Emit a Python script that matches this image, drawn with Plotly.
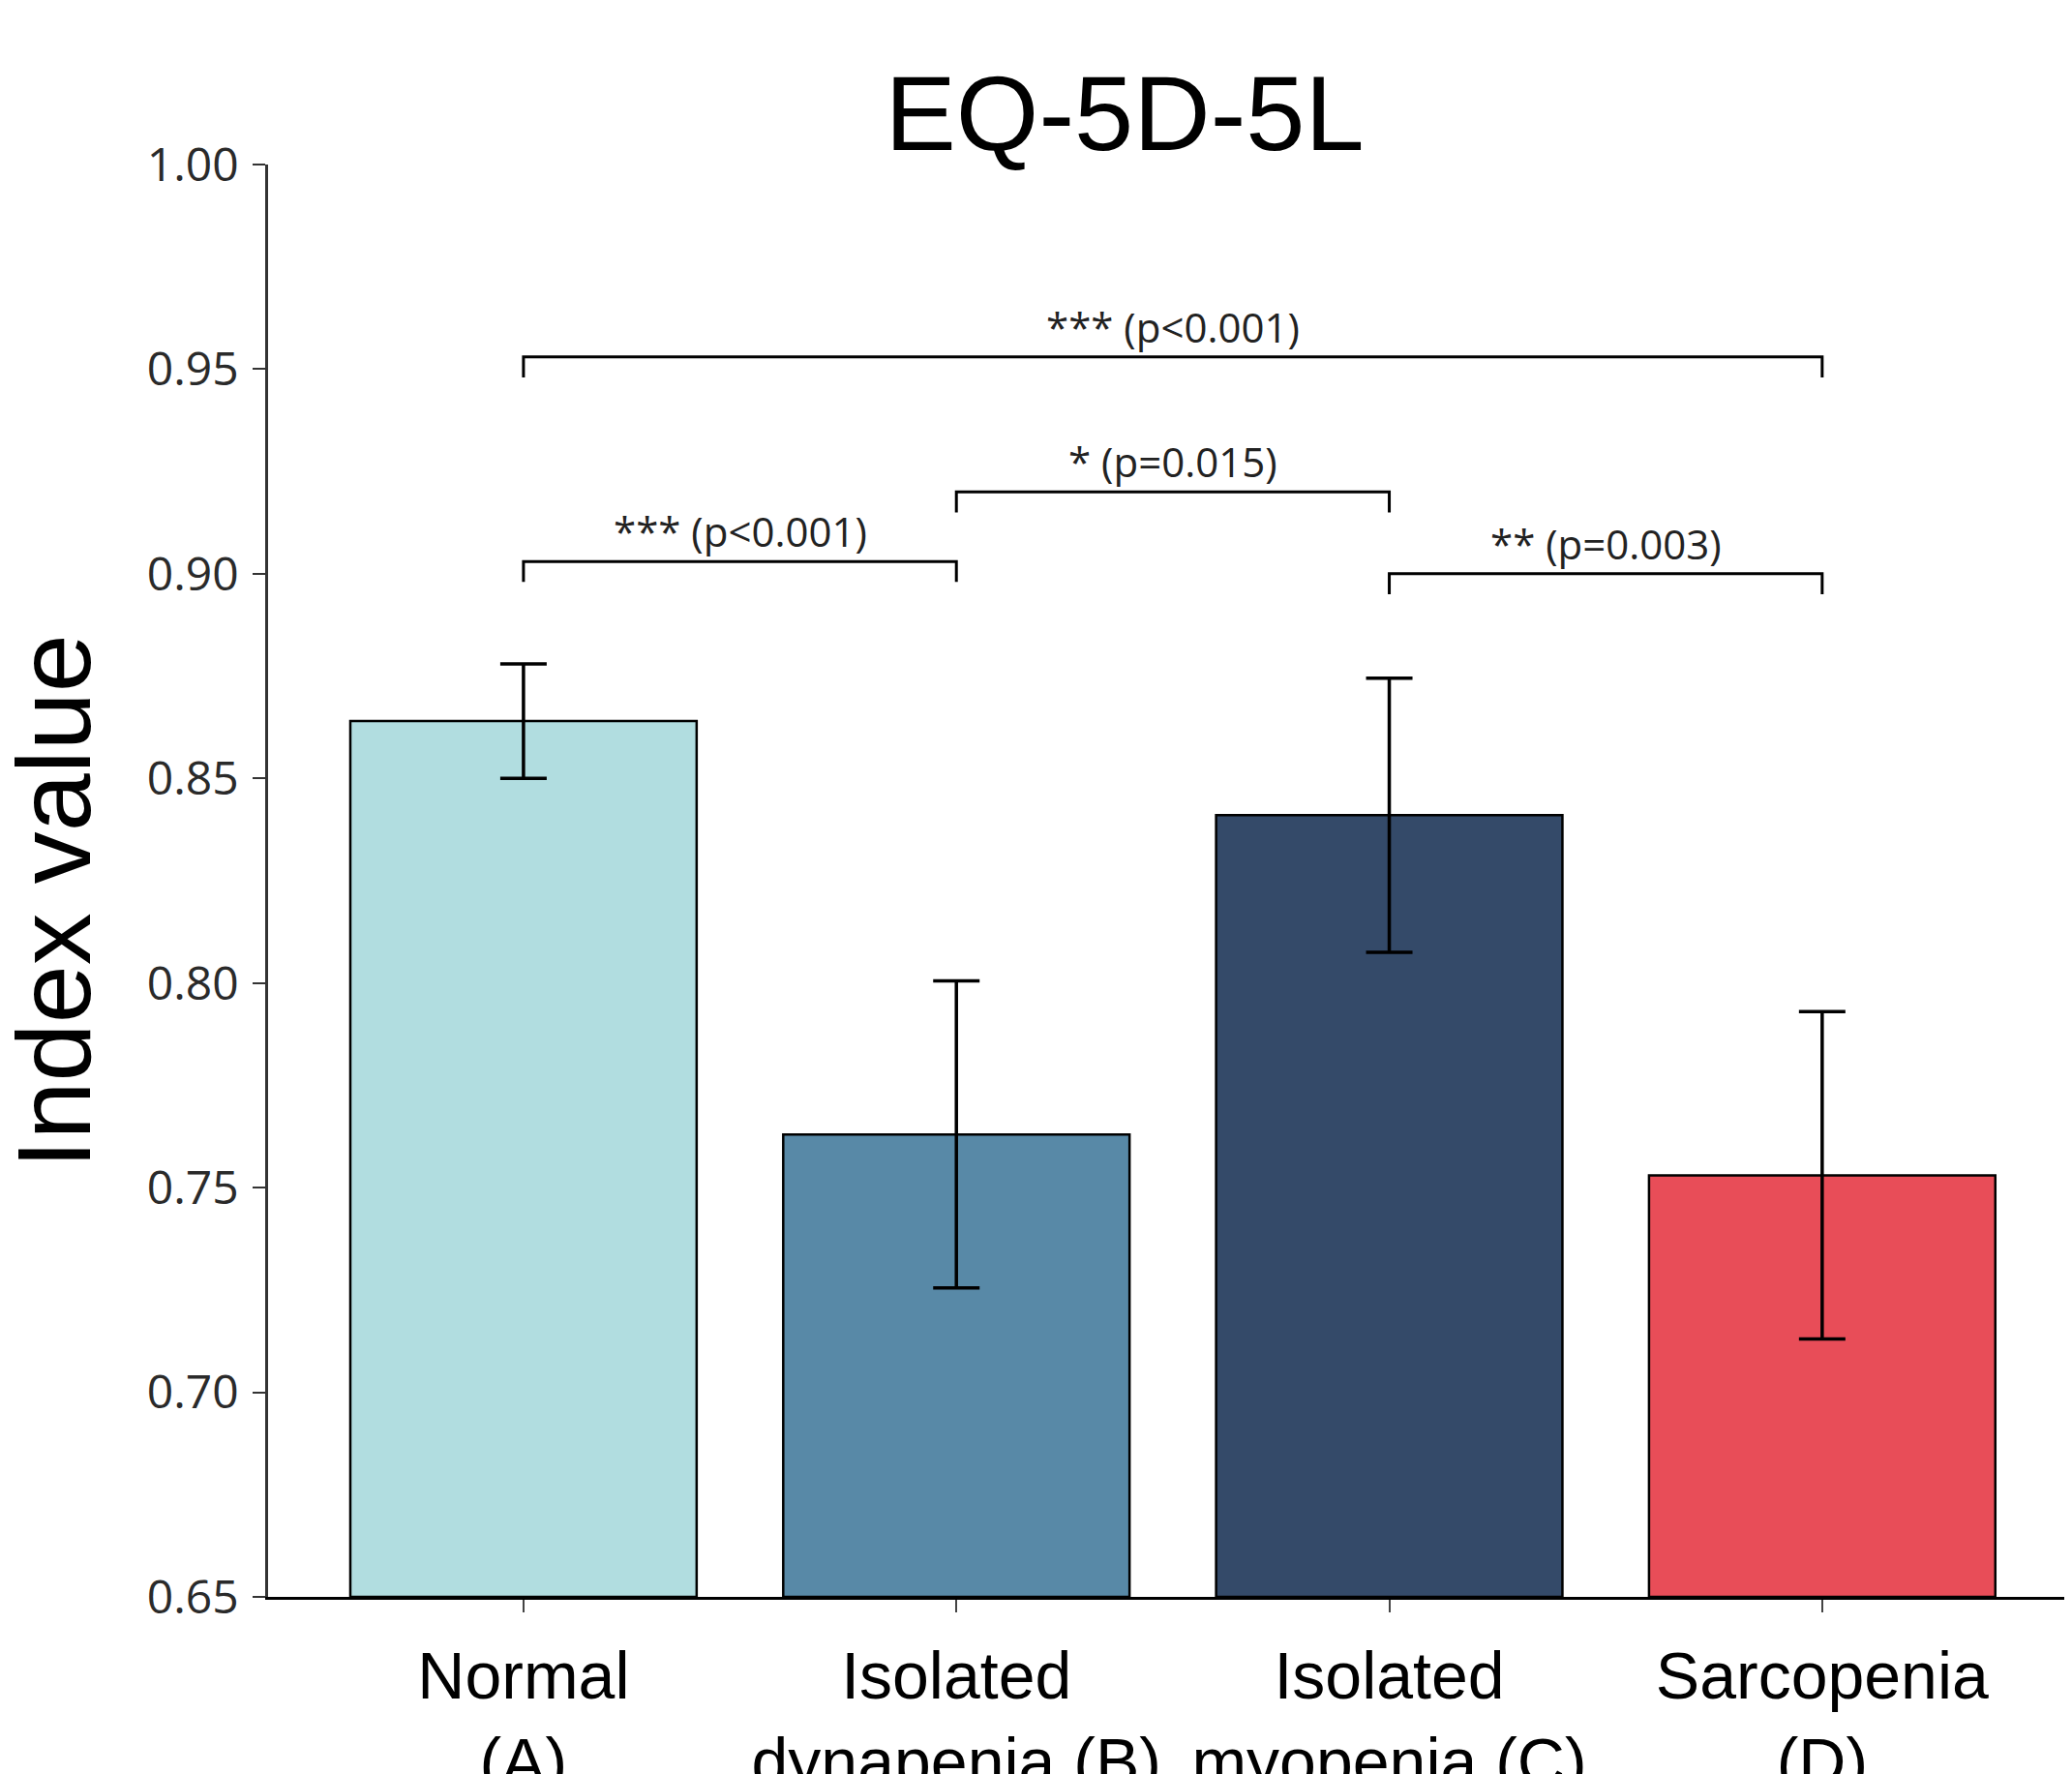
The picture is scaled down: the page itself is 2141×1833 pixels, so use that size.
import plotly.graph_objects as go

# ---- data ----
categories = ["Normal<br>(A)", "Isolated<br>dynapenia (B)", "Isolated<br>myopenia (C)", "Sarcopenia<br>(D)"]
means = [0.864, 0.763, 0.841, 0.753]
errors = [0.014, 0.0375, 0.0335, 0.040]
bar_colors = ["#B1DDE0", "#5889A7", "#344A69", "#E84D58"]
y_ticks = [0.65, 0.70, 0.75, 0.80, 0.85, 0.90, 0.95, 1.00]

# significance brackets: (left group index, right group index, height, label)
bracket_left = [0, 1, 2, 0]
bracket_right = [1, 2, 3, 3]
bracket_height = [0.903, 0.920, 0.900, 0.953]
bracket_drop = 0.005
bracket_labels = ["*** (p<0.001)", "* (p=0.015)", "** (p=0.003)", "*** (p<0.001)"]

xpos = list(range(len(categories)))

fig = go.Figure()
fig.add_trace(go.Bar(
    x=xpos, y=[m - 0.65 for m in means], base=0.65,
    width=0.8,
    marker=dict(color=bar_colors, line=dict(color="black", width=2.5)),
    error_y=dict(type="data", array=errors, color="black", thickness=3.5, width=24),
    showlegend=False, hoverinfo="skip",
))

# brackets
for l, r, h in zip(bracket_left, bracket_right, bracket_height):
    fig.add_trace(go.Scatter(
        x=[l, l, r, r], y=[h - bracket_drop, h, h, h - bracket_drop],
        mode="lines", line=dict(color="black", width=3),
        showlegend=False, hoverinfo="skip", cliponaxis=False,
    ))

annotations = []
for l, r, h, t in zip(bracket_left, bracket_right, bracket_height, bracket_labels):
    annotations.append(dict(
        x=(l + r) / 2, y=h, xref="x", yref="y", text=t, showarrow=False,
        xanchor="center", yanchor="bottom", yshift=1,
        font=dict(family="Open Sans, Lato, sans-serif", size=42, color="#222222"),
    ))

annotations.append(dict(
    x=0, y=0.4855, xref="paper", yref="paper", xshift=-222,
    text="Index value", textangle=-90, showarrow=False,
    xanchor="center", yanchor="middle",
    font=dict(family="Liberation Sans, Arial, sans-serif", size=108, color="black"),
))

fig.update_layout(
    width=2141, height=1833,
    margin=dict(l=269, r=0, t=162, b=191, pad=0, autoexpand=False),
    paper_bgcolor="white", plot_bgcolor="white",
    title=dict(
        text="EQ-5D-5L", x=0.4728, xref="paper", xanchor="center",
        y=1 - 108 / 1833, yref="container", yanchor="middle",
        font=dict(family="Liberation Sans, Arial, sans-serif", size=110, color="black"),
    ),
    annotations=annotations,
    bargap=0.2,
)

fig.update_xaxes(
    range=[-0.59, 3.595], automargin=False,
    tickmode="array", tickvals=xpos, ticktext=categories,
    showline=True, linecolor="black", linewidth=2.5,
    ticks="outside", ticklen=13, tickwidth=2, tickcolor="#444444",
    showgrid=False, zeroline=False,
    tickfont=dict(family="Liberation Sans, Arial, sans-serif", size=68, color="black"),
    ticklabelstandoff=8,
)
fig.update_yaxes(
    range=[0.65, 1.00], automargin=False,
    tickmode="array", tickvals=y_ticks, ticktext=[f"{v:.2f}" for v in y_ticks],
    showline=True, linecolor="#333333", linewidth=2.5,
    ticks="outside", ticklen=13, tickwidth=2, tickcolor="#333333",
    showgrid=False, zeroline=False,
    tickfont=dict(family="Open Sans, Lato, sans-serif", size=48, color="#2a2a2a"),
    ticklabelstandoff=5,
)

fig.write_html("out.html")
